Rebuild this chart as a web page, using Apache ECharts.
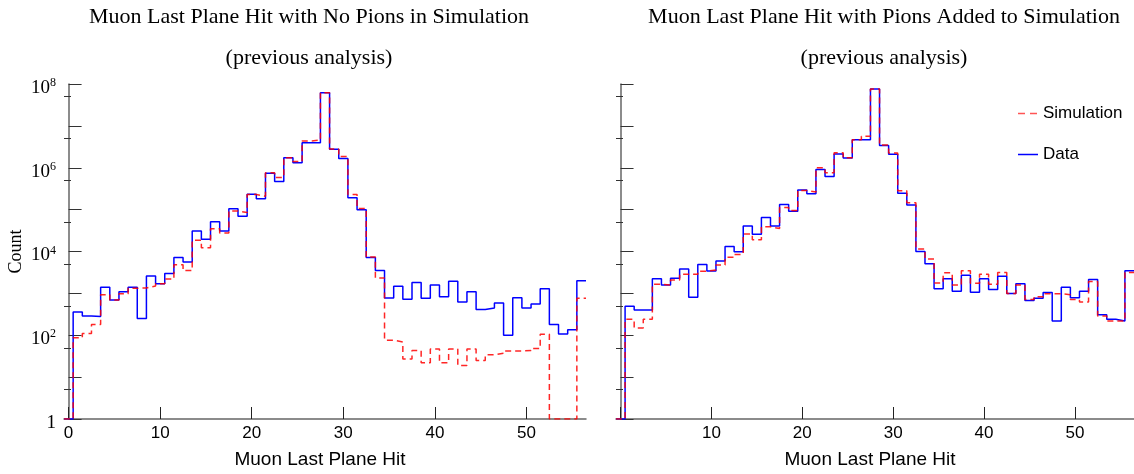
<!DOCTYPE html>
<html>
<head>
<meta charset="utf-8">
<script src="https://cdn.jsdelivr.net/npm/echarts@6/dist/echarts.min.js"></script>
<style>
  html, body { margin: 0; padding: 0; background: #fff; }
  #chart { width: 1134px; height: 474px; }
</style>
</head>
<body>
<div id="chart"></div>
<script>
// bins are centered on integer plane numbers 0..56
const leftData = [1, 360, 290, 280, 1400, 690, 1100, 1400, 250, 2600,
  1700, 3000, 7200, 5600, 31000, 19500, 51000, 31000, 105000, 69000,
  234000, 182000, 741000, 468000, 1.74e6, 1.32e6, 3.98e6, 3.98e6, 6.17e7, 2.75e6,
  1.66e6, 191000, 100000, 7200, 3500, 780, 1480, 720, 1820, 760,
  1580, 830, 1950, 620, 1100, 410, 450, 590, 100, 790,
  450, 560, 1290, 180, 107, 135, 2000];
const leftSim = [1, 87, 110, 180, 930, 690, 980, 1320, 1350, 1500,
  1700, 2200, 4800, 3500, 18600, 12300, 34700, 27500, 93000, 85000,
  229000, 209000, 759000, 589000, 1.74e6, 1.41e6, 4.37e6, 4.57e6, 6.17e7, 2.82e6,
  1.86e6, 229000, 107000, 7400, 2340, 76, 69, 27, 43, 22,
  47, 22, 47, 19, 47, 25, 34, 37, 42, 42,
  43, 48, 105, 1, 1, 1, 760];
const rightData = [1, 490, 400, 400, 2240, 1580, 2290, 3800, 810, 4900,
  3400, 5900, 13200, 9800, 40700, 25700, 64600, 40700, 132000, 91000,
  295000, 240000, 912000, 617000, 2.14e6, 1.70e6, 4.68e6, 4.68e6, 7.59e7, 3.39e6,
  2.09e6, 245000, 129000, 10000, 5100, 1290, 2240, 1120, 2700, 1070,
  2240, 1230, 2570, 1000, 1700, 680, 760, 1050, 220, 1410,
  790, 1120, 2140, 310, 240, 220, 3470];
const rightSim = [1, 240, 150, 240, 1660, 1580, 2090, 2880, 2880, 3390,
  3630, 4790, 7240, 8510, 26300, 19100, 38900, 35500, 112000, 95500,
  288000, 263000, 1.0e6, 759000, 2.29e6, 1.74e6, 4.68e6, 5.62e6, 7.59e7, 3.47e6,
  2.24e6, 282000, 145000, 11500, 6600, 1780, 3090, 1580, 3470, 1740,
  2880, 1660, 3160, 1000, 1580, 710, 830, 980, 980, 930,
  710, 620, 1910, 290, 220, 220, 3160];

const xTicks = [0, 10, 20, 30, 40, 50];
const yMajor = [1, 10, 100, 1e3, 1e4, 1e5, 1e6, 1e7, 1e8];
const yMinor = [5, 50, 500, 5e3, 5e4, 5e5, 5e6, 5e7];
const yLabels = [1, 100, 1e4, 1e6, 1e8];

const serif = '"Liberation Serif", "Times New Roman", serif';
const sans = '"Liberation Sans", Arial, sans-serif';

// legend glyphs: thin line(s) inside a 20x14 box (corner dots keep the box size)
const solidIcon = 'path://M0,6.3h20v1.4h-20z M0,0h.01v.01h-.01z M19.99,13.99h.01v.01h-.01z';
const dashIcon = 'path://M0,6.3h7v1.4h-7z M12,6.3h7v1.4h-7z M0,0h.01v.01h-.01z M19.99,13.99h.01v.01h-.01z';

// turn bin contents into a step outline
function steps(values) {
  const pts = [];
  values.forEach(function (v, i) {
    pts.push([i - 0.5, v]);
    pts.push([i + 0.5, v]);
  });
  return pts;
}

function xAxisFor(g, labels) {
  return {
    type: 'value', gridIndex: g, min: -0.5, max: 56.5,
    name: 'Muon Last Plane Hit', nameLocation: 'middle', nameGap: 31,
    nameTextStyle: { fontFamily: sans, fontSize: 19, color: '#000', padding: [0, 10, 0, 0] },
    axisLine: { lineStyle: { color: '#666', width: 1.5 } },
    axisTick: { inside: true, length: 12, customValues: xTicks, lineStyle: { color: '#222' } },
    axisLabel: { customValues: labels, margin: 6, fontFamily: sans, fontSize: 17, color: '#000' },
    splitLine: { show: false }
  };
}

function yMain(g, withLabels) {
  return {
    type: 'log', logBase: 10, gridIndex: g, min: 1, max: 1e8, position: 'left',
    name: withLabels ? 'Count' : '', nameLocation: 'middle', nameGap: 39, nameRotate: 90,
    nameTextStyle: { fontFamily: serif, fontSize: 18, color: '#000' },
    axisLine: { show: true, lineStyle: { color: '#666', width: 1.5 } },
    axisTick: { inside: true, length: 13, customValues: yMajor, lineStyle: { color: '#333' } },
    axisLabel: {
      show: withLabels, customValues: yLabels, margin: 8, padding: [8, 0, 0, 0],
      formatter: function (v) {
        const e = Math.round(Math.log10(v));
        return e === 0 ? '{b|1}' : '{b|10}{s|' + e + '}';
      },
      rich: {
        b: { fontFamily: serif, fontSize: 19, color: '#000' },
        s: { fontFamily: serif, fontSize: 12, color: '#000', padding: [0, 0, 10, 0] }
      }
    },
    splitLine: { show: false }
  };
}

function yMinorAxis(g) {
  return {
    type: 'log', logBase: 10, gridIndex: g, min: 1, max: 1e8, position: 'left', offset: 0,
    axisLine: { show: false },
    axisTick: { inside: true, length: 7, customValues: yMinor, lineStyle: { color: '#333' } },
    axisLabel: { show: false },
    splitLine: { show: false }
  };
}

function histSeries(name, values, g, yIdx, color, dashed) {
  return {
    name: name, type: 'line', xAxisIndex: g, yAxisIndex: yIdx,
    data: steps(values), symbol: 'none', animation: false,
    lineStyle: { color: color, width: 1.5, type: dashed ? [6, 4] : 'solid', opacity: dashed ? 0.85 : 1 },
    itemStyle: { color: color },
    z: dashed ? 3 : 2
  };
}

const chart = echarts.init(document.getElementById('chart'), null, { renderer: 'canvas' });

const titleStyle = { fontFamily: serif, fontSize: 22, fontWeight: 'normal', color: '#000', lineHeight: 41 };

const option = {
  backgroundColor: '#fff',
  animation: false,
  title: [
    { text: 'Muon Last Plane Hit with No Pions in Simulation\n(previous analysis)', left: 304, top: -8, textAlign: 'center', textStyle: titleStyle },
    { text: 'Muon Last Plane Hit with Pions Added to Simulation\n(previous analysis)', left: 879, top: -8, textAlign: 'center', textStyle: titleStyle }
  ],
  legend: {
    data: [
      { name: 'Simulation', icon: dashIcon, itemStyle: { color: '#ff5555' } },
      { name: 'Data', icon: solidIcon, itemStyle: { color: '#0000ff' } }
    ],
    orient: 'vertical', left: 1013, top: 100,
    itemWidth: 20, itemHeight: 14, itemGap: 24,
    textStyle: { fontFamily: sans, fontSize: 17, color: '#000' }
  },
  grid: [
    { left: 64, top: 84, width: 522, height: 341 },
    { left: 616, top: 84, width: 520, height: 344 }
  ],
  xAxis: [xAxisFor(0, xTicks), xAxisFor(1, [10, 20, 30, 40, 50])],
  yAxis: [yMain(0, true), yMinorAxis(0), yMain(1, false), yMinorAxis(1)],
  series: [
    histSeries('Data', leftData, 0, 0, '#0000ff', false),
    histSeries('Simulation', leftSim, 0, 0, '#ff0000', true),
    histSeries('Data', rightData, 1, 2, '#0000ff', false),
    histSeries('Simulation', rightSim, 1, 2, '#ff0000', true)
  ]
};

chart.setOption(option);
</script>
</body>
</html>
